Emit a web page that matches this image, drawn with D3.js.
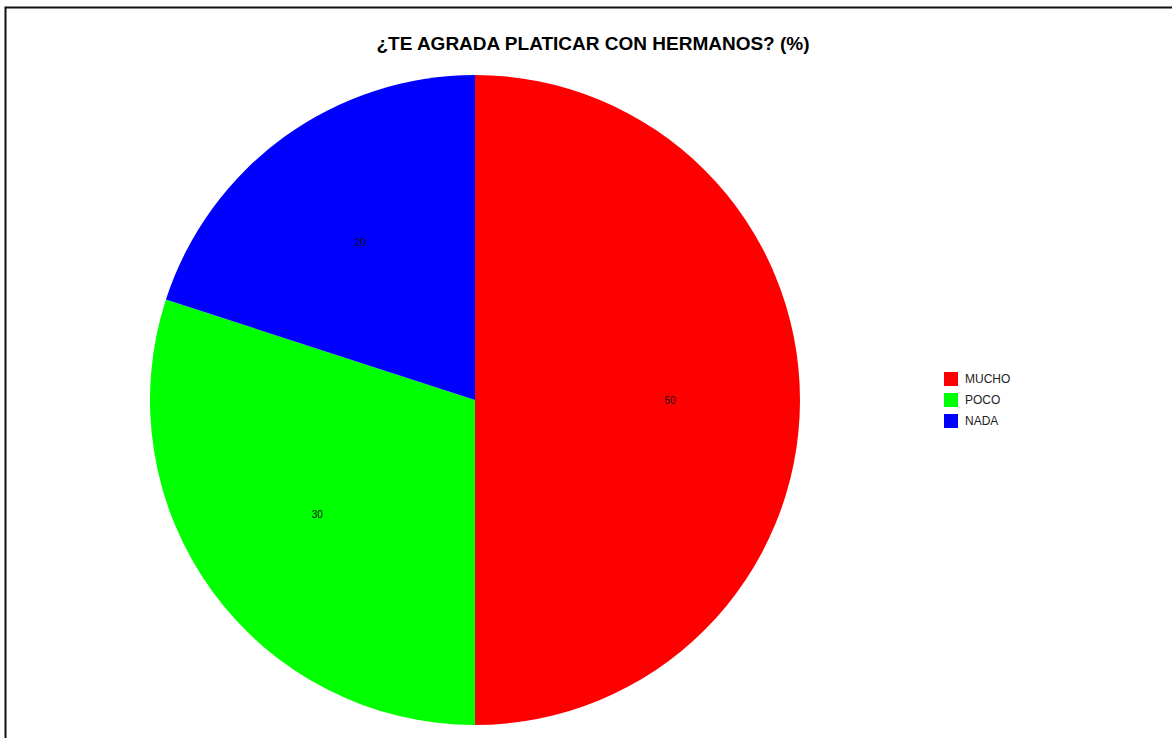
<!DOCTYPE html>
<html lang="es">
<head>
<meta charset="utf-8">
<title>¿Te agrada platicar con hermanos?</title>
<script src="https://d3js.org/d3.v7.min.js"></script>
<style>
  html, body { margin: 0; padding: 0; background: #fff; }
</style>
</head>
<body>
<script>
// datos
const categorias = ["MUCHO", "POCO", "NADA"];
const valores = [50, 30, 20];
const colores = ["#ff0000", "#00ff00", "#0000ff"];
const titulo = "¿TE AGRADA PLATICAR CON HERMANOS? (%)";

const width = 1172;
const height = 738;
const cx = 475, cy = 400, radius = 325;

const svg = d3.select("body").append("svg")
  .attr("width", width)
  .attr("height", height)
  .attr("viewBox", [0, 0, width, height])
  .style("font-family", "Arial, 'Liberation Sans', sans-serif");

// marco (borde superior e izquierdo)
svg.append("path")
  .attr("d", `M5.5,${height} L5.5,7.5 L${width},7.5`)
  .attr("fill", "none")
  .attr("stroke", "#111")
  .attr("stroke-width", 2);

svg.append("text")
  .attr("x", 593)
  .attr("y", 50)
  .attr("text-anchor", "middle")
  .style("font-size", "19px")
  .style("font-weight", "bold")
  .text(titulo);

const color = d3.scaleOrdinal().domain(categorias).range(colores);

const pie = d3.pie().sort(null).value(d => d.v);
const data = categorias.map((c, i) => ({ c, v: valores[i] }));
const arcs = pie(data);

const arc = d3.arc().innerRadius(0).outerRadius(radius);
const labelArc = d3.arc().innerRadius(radius * 0.6).outerRadius(radius * 0.6);

const g = svg.append("g").attr("transform", `translate(${cx},${cy})`);

g.selectAll("path")
  .data(arcs)
  .join("path")
  .attr("d", arc)
  .attr("fill", d => color(d.data.c));

g.selectAll("text")
  .data(arcs)
  .join("text")
  .attr("transform", d => `translate(${labelArc.centroid(d)})`)
  .attr("text-anchor", "middle")
  .attr("dy", "0.35em")
  .style("font-size", "10px")
  .attr("fill", "#111")
  .text(d => d.data.v);

// leyenda
const legend = svg.append("g").attr("transform", "translate(944,372)");
const item = legend.selectAll("g")
  .data(categorias)
  .join("g")
  .attr("transform", (d, i) => `translate(0,${i * 21})`);

item.append("rect")
  .attr("width", 14)
  .attr("height", 14)
  .attr("fill", d => color(d));

item.append("text")
  .attr("x", 21)
  .attr("y", 7)
  .attr("dy", "0.35em")
  .style("font-size", "12px")
  .attr("fill", "#222")
  .text(d => d);
</script>
</body>
</html>
